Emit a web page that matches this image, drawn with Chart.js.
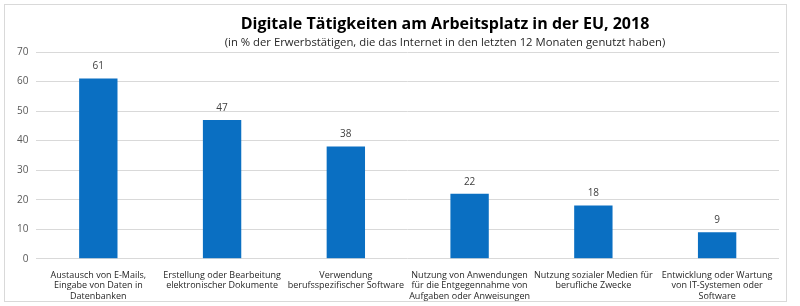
<!DOCTYPE html>
<html>
<head>
<meta charset="utf-8">
<script src="https://cdn.jsdelivr.net/npm/chart.js@4/dist/chart.umd.min.js"></script>
<style>
  html, body { margin: 0; padding: 0; background: #fff; }
  #wrap { width: 800px; height: 306px; position: relative; }
</style>
</head>
<body>
<div id="wrap"><canvas id="taetigkeitenChart" width="800" height="306"></canvas></div>
<script>
var categories = [
    ['Austausch von E-Mails,', 'Eingabe von Daten in', 'Datenbanken'],
    ['Erstellung oder Bearbeitung', 'elektronischer Dokumente'],
    ['Verwendung', 'berufsspezifischer Software'],
    ['Nutzung von Anwendungen', 'für die Entgegennahme von', 'Aufgaben oder Anweisungen'],
    ['Nutzung sozialer Medien für', 'berufliche Zwecke'],
    ['Entwicklung oder Wartung', 'von IT-Systemen oder', 'Software']
];
var values = [61, 47, 38, 22, 18, 9];
var yTicks = [0, 10, 20, 30, 40, 50, 60, 70];
var titleText = 'Digitale Tätigkeiten am Arbeitsplatz in der EU, 2018';
var subtitleText = '(in % der Erwerbstätigen, die das Internet in den letzten 12 Monaten genutzt haben)';

// frame, title and value labels
var decorations = {
    id: 'decorations',
    beforeDraw: function (chart) {
        var c = chart.ctx;
        c.save();
        c.fillStyle = '#fff';
        c.fillRect(0, 0, chart.width, chart.height);
        c.strokeStyle = '#d9d9d9';
        c.lineWidth = 1;
        c.strokeRect(4.5, 4.5, 782, 297);
        c.restore();
    },
    afterDatasetsDraw: function (chart) {
        var c = chart.ctx;
        c.save();
        c.textAlign = 'center';
        c.fillStyle = '#000';
        c.font = 'bold 16px "Open Sans"';
        c.textBaseline = 'middle';
        c.fillText(titleText, 445, 24);
        c.font = '11.3px "Open Sans"';
        c.fillStyle = '#262626';
        c.fillText(subtitleText, 445, 43);

        c.font = '10px "Open Sans"';
        c.fillStyle = '#404040';
        chart.getDatasetMeta(0).data.forEach(function (bar, i) {
            c.fillText(values[i], bar.x, bar.y - 12);
        });
        c.restore();
    }
};

new Chart(document.getElementById('taetigkeitenChart'), {
    type: 'bar',
    data: {
        labels: categories,
        datasets: [{
            data: values,
            backgroundColor: '#0a6fc2',
            categoryPercentage: 1,
            barPercentage: 0.31
        }]
    },
    options: {
        responsive: false,
        animation: false,
        layout: { padding: { left: 9, right: 21, top: 52, bottom: 1 } },
        plugins: {
            legend: { display: false },
            tooltip: { enabled: false }
        },
        scales: {
            x: {
                grid: { display: false },
                border: { display: false },
                ticks: {
                    color: '#262626',
                    font: { family: 'Open Sans', size: 9, lineHeight: 1.12 },
                    maxRotation: 0,
                    autoSkip: false,
                    padding: 4
                }
            },
            y: {
                min: 0,
                max: 70,
                afterBuildTicks: function (axis) {
                    axis.ticks = yTicks.map(function (v) { return { value: v }; });
                },
                grid: { color: '#d9d9d9', drawTicks: false },
                border: { display: false },
                ticks: {
                    color: '#595959',
                    font: { family: 'Open Sans', size: 10 },
                    padding: 8
                }
            }
        }
    },
    plugins: [decorations]
});
</script>
</body>
</html>
